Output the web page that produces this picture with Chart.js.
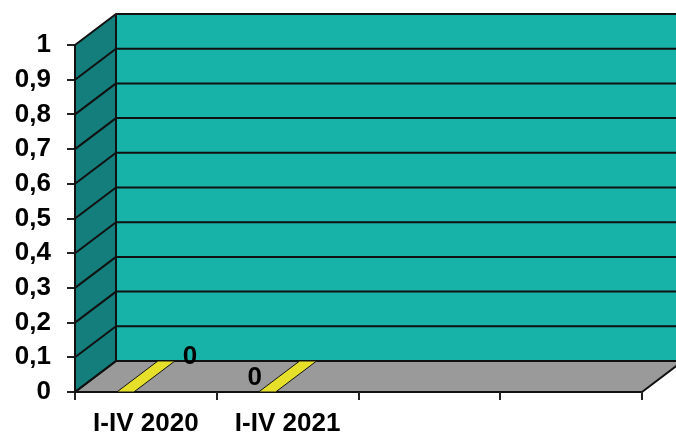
<!DOCTYPE html>
<html>
<head>
<meta charset="utf-8">
<script src="https://cdn.jsdelivr.net/npm/chart.js@4/dist/chart.umd.min.js"></script>
<style>
  html, body { margin: 0; padding: 0; background: #fff; }
  #wrap { width: 676px; height: 438px; }
</style>
</head>
<body>
<div id="wrap"><canvas id="chart" width="676" height="438"></canvas></div>
<script>
// data
const categories = ["I-IV 2020", "I-IV 2021", "", ""];
const values = [0, 0];
const yTickLabels = ["0", "0,1", "0,2", "0,3", "0,4", "0,5", "0,6", "0,7", "0,8", "0,9", "1"];

// depth of the fake 3d box
const DX = 41;
const DY = 31;

const wallPlugin = {
  id: "walls",
  beforeDraw(chart) {
    const ctx = chart.ctx;
    const x = chart.scales.x;
    const y = chart.scales.y;
    const left = chart.chartArea.left;
    const right = chart.chartArea.right;
    const top = y.getPixelForValue(1);
    const bottom = y.getPixelForValue(0);
    ctx.save();
    ctx.lineJoin = "round";

    // back wall
    ctx.fillStyle = "#17b2a8";
    ctx.fillRect(left + DX, top - DY, chart.width - left - DX + 5, bottom - top);

    // side wall
    ctx.fillStyle = "#137e7b";
    ctx.beginPath();
    ctx.moveTo(left, top);
    ctx.lineTo(left + DX, top - DY);
    ctx.lineTo(left + DX, bottom - DY);
    ctx.lineTo(left, bottom);
    ctx.closePath();
    ctx.fill();

    // floor
    ctx.fillStyle = "#9a9a9a";
    ctx.beginPath();
    ctx.moveTo(left, bottom);
    ctx.lineTo(right, bottom);
    ctx.lineTo(right + DX, bottom - DY);
    ctx.lineTo(left + DX, bottom - DY);
    ctx.closePath();
    ctx.fill();
    ctx.strokeStyle = "#111";
    ctx.lineWidth = 2;
    ctx.stroke();

    // grid lines on both walls
    ctx.strokeStyle = "#111";
    ctx.lineWidth = 2;
    yTickLabels.forEach((t, i) => {
      const py = y.getPixelForValue(i / 10);
      ctx.beginPath();
      ctx.moveTo(left, py);
      ctx.lineTo(left + DX, py - DY);
      ctx.lineTo(chart.width + 5, py - DY);
      ctx.stroke();
    });
    ctx.beginPath();
    ctx.moveTo(left + DX, top - DY);
    ctx.lineTo(left + DX, bottom - DY);
    ctx.stroke();

    // zero bars lie flat on the floor
    const meta = chart.getDatasetMeta(0);
    meta.data.forEach((bar) => {
      const hw = bar.width / 2;
      const cx = bar.x;
      ctx.fillStyle = "#e6e02a";
      ctx.beginPath();
      ctx.moveTo(cx - DX / 2 - hw, bottom);
      ctx.lineTo(cx - DX / 2 + hw, bottom);
      ctx.lineTo(cx + DX / 2 + hw, bottom - DY);
      ctx.lineTo(cx + DX / 2 - hw, bottom - DY);
      ctx.closePath();
      ctx.fill();
      ctx.lineWidth = 1;
      ctx.stroke();
    });
    ctx.restore();
  },
  afterDraw(chart) {
    const ctx = chart.ctx;
    const meta = chart.getDatasetMeta(0);
    const shift = [[44, -35], [-33, -14]];
    ctx.save();
    ctx.fillStyle = "#000";
    ctx.font = "bold 26px 'Liberation Sans', Arial, sans-serif";
    ctx.textAlign = "center";
    ctx.textBaseline = "middle";
    meta.data.forEach((bar, i) => {
      const s = shift[i] || [0, 0];
      ctx.fillText(String(values[i]).replace(".", ","), bar.x + s[0], bar.base + s[1]);
    });
    ctx.restore();
  }
};

Chart.defaults.font.family = "'Liberation Sans', Arial, sans-serif";
Chart.defaults.font.weight = "bold";
Chart.defaults.font.size = 26;
Chart.defaults.color = "#000";

const myChart = new Chart(document.getElementById("chart"), {
  type: "bar",
  data: {
    labels: categories,
    datasets: [
      {
        data: values,
        backgroundColor: "#e6e02a",
        barPercentage: 0.5,
        categoryPercentage: 0.24,
      },
    ],
  },
  options: {
    responsive: false,
    animation: false,
    layout: { padding: { top: 45, right: 34, left: 0, bottom: 0 } },
    plugins: { legend: { display: false }, tooltip: { enabled: false } },
    scales: {
      x: {
        afterFit: (s) => { s.height = 46; },
        grid: { offset: true, drawOnChartArea: false, drawTicks: true, tickLength: 8, color: "#222", lineWidth: 2 },
        border: { display: false },
        ticks: { padding: 8, maxRotation: 0, autoSkip: false },
      },
      y: {
        min: 0,
        max: 1,
        afterFit: (s) => { s.width = 75; },
        grid: { drawOnChartArea: false, drawTicks: true, tickLength: 8, color: "#222", lineWidth: 2 },
        border: { display: true, color: "#111", width: 2 },
        ticks: {
          stepSize: 0.1,
          padding: 16,
          callback: (v, i) => yTickLabels[i],
        },
      },
    },
  },
  plugins: [wallPlugin],
});
</script>
</body>
</html>
